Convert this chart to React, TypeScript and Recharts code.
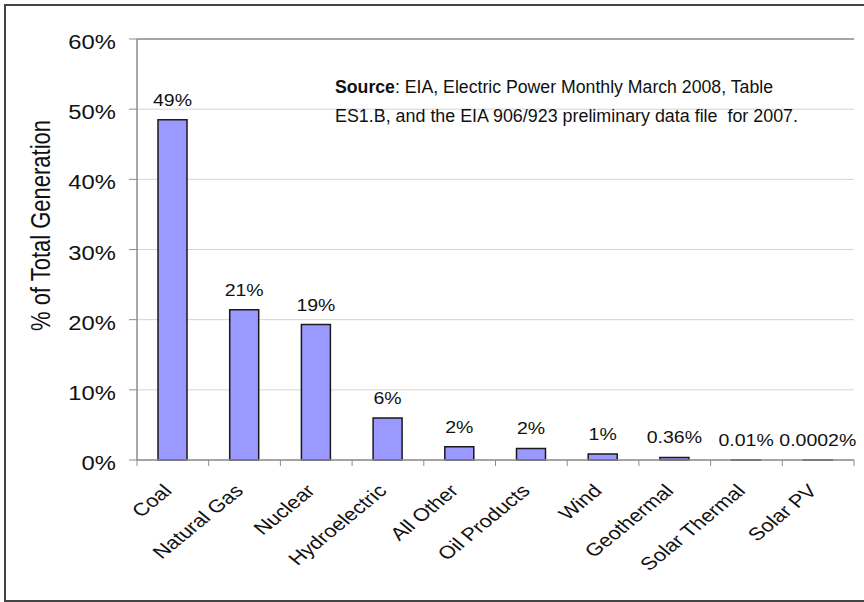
/**
 * Bar chart: share of total US electricity generation by source, 2007.
 */

import React from 'react';
import { BarChart, Bar, XAxis, YAxis, CartesianGrid, LabelList, ReferenceLine } from 'recharts';

const categories = [
  'Coal',
  'Natural Gas',
  'Nuclear',
  'Hydroelectric',
  'All Other',
  'Oil Products',
  'Wind',
  'Geothermal',
  'Solar Thermal',
  'Solar PV',
];
const shares = [48.5, 21.4, 19.3, 6.0, 1.9, 1.65, 0.85, 0.36, 0.01, 0.0002];
const shareLabels = ['49%', '21%', '19%', '6%', '2%', '2%', '1%', '0.36%', '0.01%', '0.0002%'];
const yTicks = [0, 10, 20, 30, 40, 50, 60];
const sourceLines = [
  ['Source', ': EIA, Electric Power Monthly March 2008, Table'],
  ['', 'ES1.B, and the EIA 906/923 preliminary data file\u00a0 for 2007.'],
];

const FONT = '"Liberation Sans", Arial, sans-serif';
const STRETCH = 1.22;
const AXIS = '#8c8c8c';

const data = categories.map((name, i) => ({ name, share: shares[i], label: shareLabels[i] }));

function YTick({ x, y, payload }: any) {
  return (
    <text
      transform={`translate(${x},${y + 10}) scale(${STRETCH},1)`}
      textAnchor="end"
      fontFamily={FONT}
      fontSize={19.5}
      fill="#111"
    >
      {payload.value}%
    </text>
  );
}

// category label plus the tick marks that Excel puts between the categories
function XTick({ x, y, payload, index, visibleTicksCount }: any) {
  const half = payload.offset || 0;
  const last = index === visibleTicksCount - 1;
  return (
    <g>
      <line x1={x - half} x2={x - half} y1={y} y2={y + 6} stroke={AXIS} />
      {last && <line x1={x + half} x2={x + half} y1={y} y2={y + 6} stroke={AXIS} />}
      <text
        transform={`translate(${x},${y + 32}) scale(${STRETCH},1) rotate(-45)`}
        textAnchor="end"
        fontFamily={FONT}
        fontSize={18}
        fill="#111"
      >
        {payload.value}
      </text>
    </g>
  );
}

function BarValue({ x, y, width, value }: any) {
  return (
    <text
      transform={`translate(${x + width / 2},${y - 14}) scale(${STRETCH},1)`}
      textAnchor="middle"
      fontFamily={FONT}
      fontSize={16}
      fill="#111"
    >
      {value}
    </text>
  );
}

function YTitle({ viewBox }: any) {
  const cy = viewBox.y + viewBox.height / 2 - 24;
  return (
    <text
      transform={`translate(50,${cy}) scale(1.25,1) rotate(-90)`}
      textAnchor="middle"
      fontFamily={FONT}
      fontSize={22}
      fill="#111"
    >
      % of Total Generation
    </text>
  );
}

export default function App() {
  return (
    <div style={{ position: 'absolute', left: 0, top: 0, width: 864, height: 602, overflow: 'hidden', background: '#fff' }}>
      <div
        style={{
          position: 'absolute',
          left: 4,
          top: 4,
          width: 1000,
          height: 598,
          boxSizing: 'border-box',
          border: '2px solid #444',
        }}
      />
      <div style={{ position: 'absolute', left: 0, top: 0 }}>
        <BarChart width={864} height={602} data={data} margin={{ top: 39, right: 10, left: 0, bottom: 0 }}>
          <CartesianGrid xAxisId="cat" vertical={false} stroke="#d4d4d4" />
          <XAxis
            xAxisId="cat"
            dataKey="name"
            height={142}
            interval={0}
            axisLine={{ stroke: AXIS, strokeWidth: 1.5 }}
            tickLine={false}
            tickSize={0}
            tickMargin={0}
            tick={XTick}
          />
          <XAxis xAxisId="edge" type="number" domain={[0, 10]} hide />
          <YAxis
            width={137}
            domain={[0, 60]}
            ticks={yTicks}
            axisLine={{ stroke: AXIS, strokeWidth: 1.5 }}
            tickLine={{ stroke: AXIS }}
            tickSize={8}
            tickMargin={13}
            tick={YTick}
            label={{ content: YTitle }}
          />
          <ReferenceLine y={60} stroke={AXIS} strokeWidth={1.5} />
          <ReferenceLine xAxisId="edge" x={10} stroke={AXIS} strokeWidth={1.5} />
          <Bar
            xAxisId="cat"
            dataKey="share"
            fill="#9999FF"
            stroke="#1a1a1a"
            strokeWidth={1.5}
            barSize={29}
            isAnimationActive={false}
          >
            <LabelList dataKey="label" content={BarValue} />
          </Bar>
        </BarChart>
      </div>
      <svg width={864} height={602} style={{ position: 'absolute', left: 0, top: 0, pointerEvents: 'none' }}>
        {sourceLines.map(([bold, rest], i) => (
          <text
            key={i}
            x={335}
            y={93 + i * 29}
            fontFamily={FONT}
            fontSize={17.5}
            fill="#111"
            textLength={i === 0 ? 438 : 463}
            lengthAdjust="spacingAndGlyphs"
          >
            {bold && <tspan fontWeight="bold">{bold}</tspan>}
            {rest}
          </text>
        ))}
      </svg>
    </div>
  );
}
